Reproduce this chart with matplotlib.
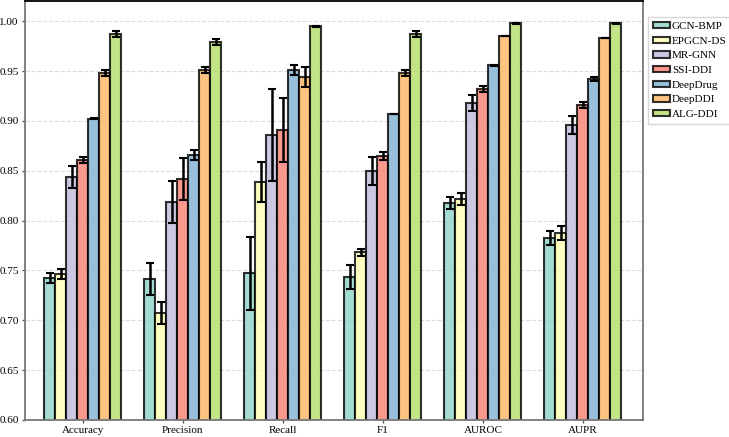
import numpy as np
import matplotlib
matplotlib.use("Agg")
import matplotlib.pyplot as plt

plt.rcParams["font.family"] = ["Liberation Serif", "DejaVu Serif"]

metrics = ["Accuracy", "Precision", "Recall", "F1", "AUROC", "AUPR"]
models = ["GCN-BMP", "EPGCN-DS", "MR-GNN", "SSI-DDI", "DeepDrug", "DeepDDI", "ALG-DDI"]

# mean scores per model, ordered as metrics
gcn_bmp = [0.742, 0.741, 0.747, 0.743, 0.818, 0.783]
epgcn_ds = [0.746, 0.707, 0.839, 0.768, 0.822, 0.788]
mr_gnn = [0.844, 0.819, 0.886, 0.850, 0.918, 0.896]
ssi_ddi = [0.861, 0.842, 0.891, 0.865, 0.932, 0.916]
deepdrug = [0.902, 0.866, 0.951, 0.907, 0.956, 0.942]
deepddi = [0.948, 0.951, 0.944, 0.948, 0.985, 0.983]
alg_ddi = [0.987, 0.979, 0.995, 0.987, 0.998, 0.998]

# standard deviations
gcn_bmp_sd = [0.005, 0.016, 0.037, 0.012, 0.006, 0.007]
epgcn_ds_sd = [0.005, 0.011, 0.020, 0.004, 0.006, 0.007]
mr_gnn_sd = [0.011, 0.021, 0.046, 0.014, 0.008, 0.009]
ssi_ddi_sd = [0.003, 0.021, 0.032, 0.004, 0.003, 0.003]
deepdrug_sd = [0.0005, 0.005, 0.005, 0.0003, 0.0005, 0.002]
deepddi_sd = [0.003, 0.003, 0.010, 0.003, 0.0003, 0.0003]
alg_ddi_sd = [0.003, 0.003, 0.0005, 0.003, 0.0003, 0.0003]

means = [gcn_bmp, epgcn_ds, mr_gnn, ssi_ddi, deepdrug, deepddi, alg_ddi]
sds = [gcn_bmp_sd, epgcn_ds_sd, mr_gnn_sd, ssi_ddi_sd, deepdrug_sd, deepddi_sd, alg_ddi_sd]
colors = ["#8dd3c7", "#ffffb3", "#bebada", "#fb8072", "#80b1d3", "#fdb462", "#b3de69"]

fig = plt.figure(figsize=(7.29, 4.37), dpi=100)
ax = fig.add_axes([0.034, 0.039, 0.848, 0.958])

x = np.arange(len(metrics))
width = 0.11
for i, (name, m, s, c) in enumerate(zip(models, means, sds, colors)):
    pos = x + (i - 3) * width
    ax.bar(pos, m, width, color=c, edgecolor="black", linewidth=1.5, alpha=0.8,
           label=name, zorder=2)
    ax.errorbar(pos, m, yerr=s, fmt="none", ecolor="black", elinewidth=1.8,
                capsize=3, capthick=1.5, zorder=3)

ax.set_ylim(0.6, 1.02)
ax.set_xlim(-0.58, 5.6)
ax.set_xticks(x)
ax.set_xticklabels(metrics, fontsize=8)
yt = np.arange(0.6, 1.001, 0.05)
ax.set_yticks(yt)
ax.set_yticklabels([f"{v:.2f}" for v in yt], fontsize=8)
ax.tick_params(axis="both", length=2.5, width=1, color="#555555", pad=2)
ax.yaxis.grid(True, linestyle="--", color="#dddddd", linewidth=0.8, zorder=0)
ax.set_axisbelow(True)
for sp in ax.spines.values():
    sp.set_color("#777777")
    sp.set_linewidth(1.3)
ax.spines["top"].set_color("black")

ax.legend(loc="upper left", bbox_to_anchor=(0.889, 0.961), bbox_transform=fig.transFigure,
          fontsize=8, frameon=True, edgecolor="#cccccc", fancybox=False,
          handlelength=1.5, handleheight=0.5, handletextpad=0.2, labelspacing=0.5,
          borderpad=0.45, borderaxespad=0)

fig.savefig("out.png", dpi=100)
